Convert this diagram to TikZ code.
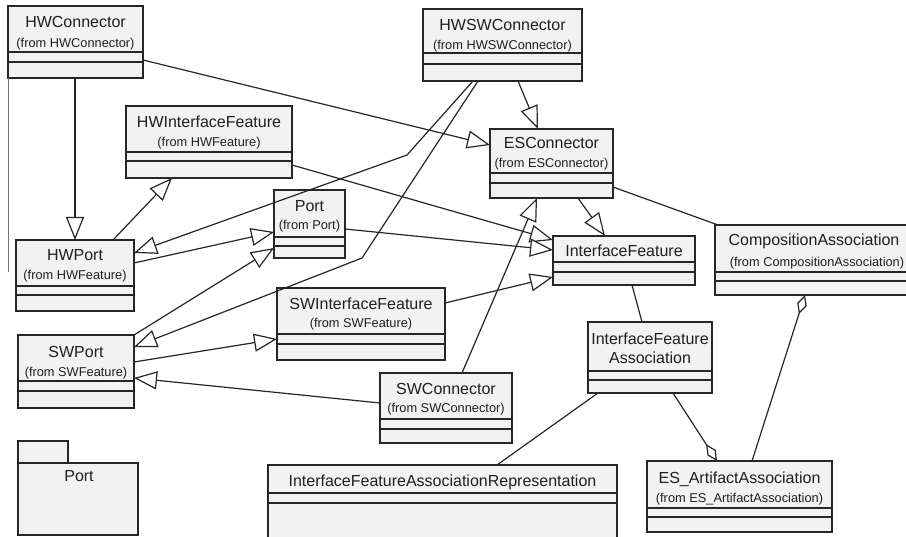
\documentclass[tikz,border=0pt]{standalone}
\usepackage{fontspec}
\setmainfont{Liberation Sans}
\usetikzlibrary{arrows.meta,calc,fit}
\tikzset{
  clsbox/.style={draw=black!85, fill=black!5, line width=1.6pt, inner sep=0pt, outer sep=0pt},
  clsline/.style={draw=black!85, line width=1.4pt},
  nm/.style={anchor=base, inner sep=0pt, text=black!88, font=\fontsize{16}{18}\selectfont},
  fr/.style={anchor=base, inner sep=0pt, text=black!88, font=\fontsize{12.8}{14}\selectfont},
  conn/.style={draw=black!85, line width=1.2pt},
  thinline/.style={draw=black!55, line width=0.9pt},
  gen/.style={conn, -{Triangle[open, fill=white, length=23pt, width=18pt, line width=1.2pt]}},
  agg/.style={conn, -{Diamond[open, fill=white, length=20pt, width=10pt, line width=1.2pt]}}
}
\newcommand\umlcls[7]{%
  \node[clsbox, fit={(#2,#3) (#4,#5)}] (#1) {};
  \draw[clsline] (#2,#6) -- (#4,#6);
  \draw[clsline] (#2,#7) -- (#4,#7);
}
\begin{document}
\begin{tikzpicture}[x=1pt, y=-1pt]
\useasboundingbox[fill=white] (0,0) rectangle (906,537);

% class boxes
\umlcls{hwc}{8}{6}{143}{78}{52}{62}
\umlcls{hwif}{126}{106}{292}{178}{152}{161}
\umlcls{hwsw}{423}{9}{582}{81}{53}{64}
\umlcls{esc}{490}{129}{613}{198}{173}{183}
\umlcls{ifeat}{553}{236}{695}{285}{262}{272}
\umlcls{comp}{715}{225}{915}{295}{272}{281}
\umlcls{port}{274}{190}{345}{258}{237}{246}
\umlcls{swif}{277}{288}{445}{360}{334}{344}
\umlcls{hwport}{16}{240}{134}{311}{286}{295}
\umlcls{swport}{18}{335}{134}{408}{381}{391}
\umlcls{swc}{380}{373}{512}{443}{419}{429}
\umlcls{ifa}{588}{322}{712}{393}{371}{380}
\umlcls{ifar}{268}{465}{617}{545}{493}{503}
\umlcls{esa}{647}{461}{832}{532}{508}{517}

% package
\draw[clsbox] (18,463) -- (18,441) -- (68,441) -- (68,463);
\node[clsbox, fit={(18,463) (138,535)}] (pkg) {};
\node[nm] (pkg-n) at (79,482) {Port};

% texts
\node[nm] (hwc-n) at (75.5,28) {HWConnector};
\node[fr] (hwc-f) at (75.5,47.5) {(from HWConnector)};
\node[nm] (hwif-n) at (209,127.5) {HWInterfaceFeature};
\node[fr] (hwif-f) at (209,146.5) {(from HWFeature)};
\node[nm] (hwsw-n) at (502.5,31) {HWSWConnector};
\node[fr] (hwsw-f) at (502.5,49.5) {(from HWSWConnector)};
\node[nm] (esc-n) at (551.5,149) {ESConnector};
\node[fr] (esc-f) at (551.5,167.5) {(from ESConnector)};
\node[nm] (ifeat-n) at (624,257) {InterfaceFeature};
\node[nm] (comp-n) at (814,246) {CompositionAssociation};
\node[fr] (comp-f) at (817,266.5) {(from CompositionAssociation)};
\node[nm] (port-n) at (309.5,212) {Port};
\node[fr] (port-f) at (309.5,229.5) {(from Port)};
\node[nm] (swif-n) at (361,309.5) {SWInterfaceFeature};
\node[fr] (swif-f) at (361,327.5) {(from SWFeature)};
\node[nm] (hwport-n) at (75,261) {HWPort};
\node[fr] (hwport-f) at (75,279.5) {(from HWFeature)};
\node[nm] (swport-n) at (76,357.5) {SWPort};
\node[fr] (swport-f) at (76,376.5) {(from SWFeature)};
\node[nm] (swc-n) at (446,395) {SWConnector};
\node[fr] (swc-f) at (446,412.5) {(from SWConnector)};
\node[nm] (ifa-n1) at (650,345) {InterfaceFeature};
\node[nm] (ifa-n2) at (650,363.5) {Association};
\node[nm] (ifar-n) at (442.5,487) {InterfaceFeatureAssociationRepresentation};
\node[nm] (esa-n) at (739.5,483.5) {ES\_ArtifactAssociation};
\node[fr] (esa-f) at (739.5,502.5) {(from ES\_ArtifactAssociation)};

% stray line
\coordinate (strayend) at (8,272);
\draw[thinline] (hwc.south west) -- (strayend);

% connectors
\draw[gen] ($(hwc.south west)+(67,0)$) -- ($(hwport.north west)+(59,0)$);
\draw[gen] ($(hwc.north east)+(0,54)$) -- ($(esc.north west)+(0,16)$);
\draw[gen] ($(hwsw.south west)+(95,0)$) -- ($(esc.north west)+(48,0)$);
\draw[gen] ($(hwsw.south west)+(50,0)$) -- (407,155) -- ($(hwport.north east)+(0,13)$);
\draw[gen] ($(hwsw.south west)+(55,0)$) -- (362,258) -- ($(swport.north east)+(0,12)$);
\draw[gen] ($(hwif.north east)+(0,59)$) -- ($(ifeat.north west)+(0,4)$);
\draw[gen] ($(port.north east)+(0,39)$) -- ($(ifeat.north west)+(0,14)$);
\draw[gen] ($(swif.north east)+(0,15)$) -- ($(ifeat.north west)+(0,41)$);
\draw[gen] ($(swc.north west)+(82,0)$) -- ($(esc.south west)+(47,0)$);
\draw[gen] ($(esc.south west)+(88,0)$) -- ($(ifeat.north west)+(52,0)$);
\draw[conn] ($(esc.north east)+(0,58)$) -- ($(comp.north west)+(3,0)$);
\draw[conn] ($(ifeat.south west)+(79,0)$) -- ($(ifa.north west)+(54,0)$);
\draw[conn] ($(ifa.south west)+(10,0)$) -- ($(ifar.north west)+(229,0)$);
\draw[agg] ($(ifa.south west)+(85,0)$) -- ($(esa.north west)+(70,0)$);
\draw[agg] ($(esa.north west)+(105,0)$) -- ($(comp.south west)+(90,0)$);
\draw[gen] ($(hwport.north west)+(97,0)$) -- ($(hwif.south west)+(46,0)$);
\draw[gen] ($(hwport.north east)+(0,23)$) -- ($(port.north west)+(0,42)$);
\draw[gen] (swport.north east) -- ($(port.north west)+(0,58)$);
\draw[gen] ($(swport.north east)+(0,27)$) -- ($(swif.north west)+(0,51)$);
\draw[gen] ($(swc.north west)+(0,30)$) -- ($(swport.north east)+(0,43)$);
\end{tikzpicture}
\end{document}
